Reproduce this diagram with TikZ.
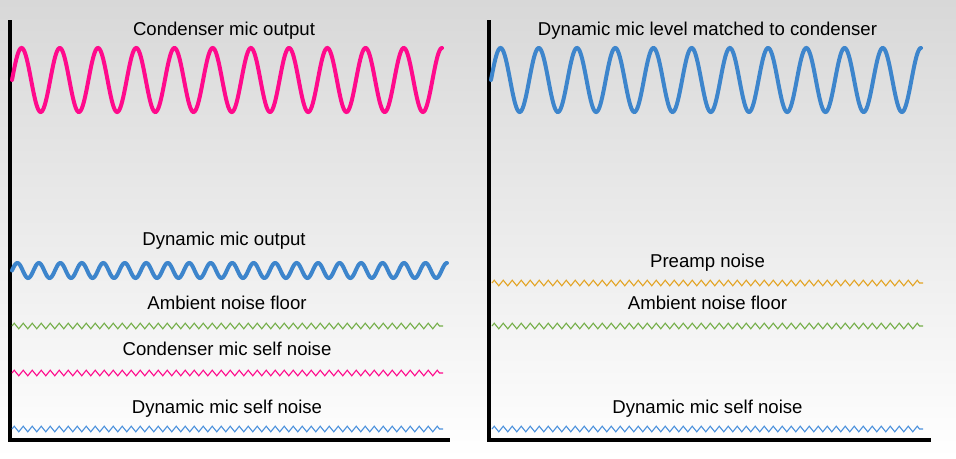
\documentclass[tikz,border=0pt]{standalone}
\usepackage{fontspec}
\setmainfont{Liberation Sans}
\usetikzlibrary{decorations.pathmorphing}
\definecolor{pinkc}{HTML}{FF0A8C}
\definecolor{bluec}{HTML}{3D85CC}
\definecolor{lbluec}{HTML}{4A90DC}
\definecolor{greenc}{HTML}{74AE48}
\definecolor{orangec}{HTML}{E3A424}
\definecolor{bgtop}{HTML}{D8D8D8}
\definecolor{bgmid}{HTML}{EBEBEB}
\tikzset{
  lbl/.style={anchor=base, inner sep=0pt, font=\fontsize{18.6}{22}\selectfont, text=black},
  axisline/.style={line width=4pt, line cap=rect},
  bigwave/.style={line width=4pt, line cap=round},
  noisewave/.style={line width=1.1pt, decorate, decoration={zigzag, segment length=9pt, amplitude=2.8pt}},
}
\begin{document}
\begin{tikzpicture}[x=1pt, y=-1pt]
\useasboundingbox (0,0) rectangle (956,458);
\shade[top color=bgtop, bottom color=white, middle color=bgmid] (0,0) rectangle (956,458);

% axes
\coordinate (lt) at (10,22);
\coordinate (lo) at (10,440);
\coordinate (lr) at (448,440);
\coordinate (rt) at (489,22);
\coordinate (ro) at (489,440);
\coordinate (rr) at (929,440);
\draw[axisline] (lt) -- (lo) -- (lr);
\draw[axisline] (rt) -- (ro) -- (rr);

% big waves
\draw[bigwave, pinkc] plot[domain=0:430, samples=500, smooth] ({12+\x}, {80-32*sin(\x/430*4050)});
\draw[bigwave, bluec] plot[domain=0:430, samples=500, smooth] ({491+\x}, {80-32*sin(\x/430*4050)});
\draw[bigwave, bluec] plot[domain=0:435, samples=600, smooth] ({12+\x}, {270.5-7.5*sin(\x/435*7290)});

% noise
\coordinate (n1a) at (12,326); \coordinate (n1b) at (443,326);
\coordinate (n2a) at (12,373); \coordinate (n2b) at (443,373);
\coordinate (n3a) at (12,429); \coordinate (n3b) at (443,429);
\coordinate (m1a) at (492,283); \coordinate (m1b) at (923,283);
\coordinate (m2a) at (492,326); \coordinate (m2b) at (923,326);
\coordinate (m3a) at (492,429); \coordinate (m3b) at (923,429);
\draw[noisewave, greenc] (n1a) -- (n1b);
\draw[noisewave, pinkc] (n2a) -- (n2b);
\draw[noisewave, lbluec] (n3a) -- (n3b);
\draw[noisewave, orangec] (m1a) -- (m1b);
\draw[noisewave, greenc] (m2a) -- (m2b);
\draw[noisewave, lbluec] (m3a) -- (m3b);

% labels
\node[lbl] (t1) at (224,35.5) {Condenser mic output};
\node[lbl] (t2) at (224,245.5) {Dynamic mic output};
\node[lbl] (t3) at (227,309) {Ambient noise floor};
\node[lbl] (t4) at (227,355.5) {Condenser mic self noise};
\node[lbl] (t5) at (227,413.5) {Dynamic mic self noise};
\node[lbl] (r1) at (707.5,35.5) {Dynamic mic level matched to condenser};
\node[lbl] (r2) at (707.5,267) {Preamp noise};
\node[lbl] (r3) at (707.5,309) {Ambient noise floor};
\node[lbl] (r4) at (707.5,413.5) {Dynamic mic self noise};
\end{tikzpicture}
\end{document}
